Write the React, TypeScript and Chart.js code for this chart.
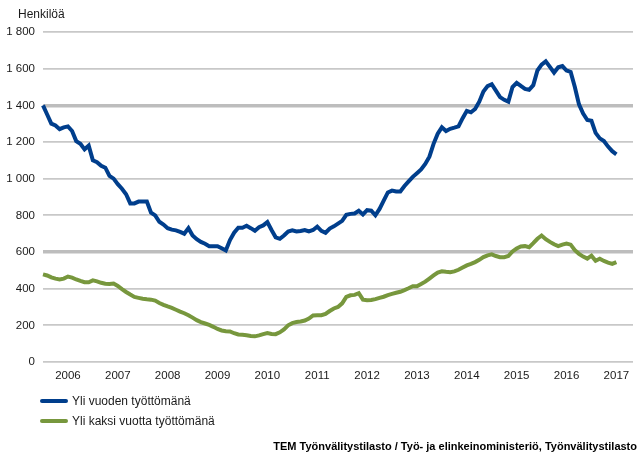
import React, { useEffect, useRef } from "react";
import { Chart, registerables } from "chart.js";

Chart.register(...registerables);

// Monthly observations, July 2005 – January 2017
const startYear = 2005;
const startMonth = 7;
const totalMonths = 143; // axis extends a few months beyond last observation

const yearLabels = ["2006", "2007", "2008", "2009", "2010", "2011", "2012", "2013", "2014", "2015", "2016", "2017"];

const yTicks = [0, 200, 400, 600, 800, 1000, 1200, 1400, 1600, 1800];

const seriesNames = ["Yli vuoden työttömänä", "Yli kaksi vuotta työttömänä"];

const overOneYear = [
  1400, 1350, 1300, 1290, 1270, 1280, 1285, 1260, 1205, 1190, 1160, 1180,
  1100, 1090, 1070, 1060, 1015, 1000, 970, 945, 915, 865, 865, 875,
  875, 875, 815, 800, 765, 750, 730, 722, 718, 710, 700, 730,
  690, 670, 655, 645, 632, 632, 632, 620, 608, 665, 705, 732,
  732, 743, 730, 716, 735, 745, 763, 720, 680, 672, 690, 712,
  718, 712, 715, 720, 712, 720, 738, 715, 705, 728, 740, 755,
  770, 803, 808, 810, 825, 805, 828, 825, 800, 835, 880, 925,
  935, 930, 930, 960, 985, 1010, 1030, 1050, 1080, 1120, 1190, 1245,
  1280, 1260, 1272, 1278, 1285, 1330, 1370, 1362, 1380, 1420, 1475, 1505,
  1515, 1480, 1445, 1430, 1420, 1500, 1523, 1506, 1490, 1485, 1510, 1590,
  1622, 1640, 1610, 1578, 1608, 1614, 1590, 1582, 1500, 1405, 1355, 1320,
  1316, 1250, 1220, 1205, 1175, 1150, 1133,
];

const overTwoYears = [
  478, 472, 462, 455, 450, 455, 466, 460, 450, 442, 435, 435,
  445, 440, 432, 427, 425, 428, 415, 398, 382, 368, 355, 350,
  345, 342, 340, 335, 322, 312, 303, 295, 285, 275, 266, 255,
  242, 228, 218, 210, 202, 192, 180, 172, 168, 167, 157, 150,
  148, 146, 142, 140, 145, 152, 158, 153, 152, 162, 178, 200,
  212, 218, 221, 226, 237, 254, 255, 255, 262, 278, 292, 300,
  320, 355, 364, 366, 375, 340, 337, 338, 343, 350, 356, 365,
  372, 378, 383, 392, 402, 413, 413, 425, 438, 455, 472, 488,
  495, 492, 490, 494, 503, 515, 527, 535, 545, 557, 572, 582,
  587, 578, 572, 572, 578, 603, 619, 630, 632, 626, 648, 672,
  690, 670, 655, 642, 632, 640, 646, 640, 610, 590, 575, 564,
  580, 552, 563, 551, 542, 535, 545,
];

const BLUE = "#003e8c";
const GREEN = "#77973d";
const FONT = "'Liberation Sans', Arial, sans-serif";

const monthLabels: string[] = [];
for (let i = 0; i < totalMonths; i++) {
  const m = (startMonth - 1 + i) % 12;
  const y = startYear + Math.floor((startMonth - 1 + i) / 12);
  monthLabels.push(m === 0 ? String(y) : "");
}

export default function App() {
  const ref = useRef<HTMLCanvasElement | null>(null);

  useEffect(() => {
    if (!ref.current) return;
    const chart = new Chart(ref.current, {
      type: "line",
      data: {
        labels: monthLabels,
        datasets: [
          {
            label: seriesNames[0],
            data: overOneYear,
            borderColor: BLUE,
            backgroundColor: BLUE,
            borderWidth: 4,
            pointRadius: 0,
            tension: 0,
            fill: false,
          },
          {
            label: seriesNames[1],
            data: overTwoYears,
            borderColor: GREEN,
            backgroundColor: GREEN,
            borderWidth: 4,
            pointRadius: 0,
            tension: 0,
            fill: false,
          },
        ],
      },
      options: {
        animation: false,
        responsive: false,
        maintainAspectRatio: false,
        layout: { padding: { top: 32, left: 0, right: 0, bottom: 62 } },
        plugins: {
          legend: { display: false },
          tooltip: { enabled: false },
          title: { display: false },
        },
        scales: {
          x: {
            type: "category",
            offset: false,
            grid: { display: false, drawTicks: false },
            border: { display: false },
            ticks: {
              autoSkip: false,
              maxRotation: 0,
              minRotation: 0,
              padding: 7,
              color: "#1a1a1a",
              font: { family: FONT, size: 11.5 },
              callback: (_v: any, i: number) => (yearLabels.includes(monthLabels[i]) ? monthLabels[i] : ""),
            },
            afterFit: (s: any) => {
              s.height = 30;
            },
          },
          y: {
            min: yTicks[0],
            max: yTicks[yTicks.length - 1],
            afterBuildTicks: (s: any) => {
              s.ticks = yTicks.map((v) => ({ value: v }));
            },
            grid: {
              drawTicks: false,
              color: (ctx: any) => (ctx.tick && (ctx.tick.value === 600 || ctx.tick.value === 1400) ? "#bdbdbd" : "#c8c8c8"),
              lineWidth: (ctx: any) => (ctx.tick && (ctx.tick.value === 600 || ctx.tick.value === 1400) ? 3.5 : 1.8),
            },
            border: { display: false },
            ticks: {
              padding: 8,
              color: "#1a1a1a",
              font: { family: FONT, size: 11.5 },
              callback: (v: any) => String(v).replace(/\B(?=(\d{3})+(?!\d))/g, " "),
            },
            afterFit: (s: any) => {
              s.width = 43;
            },
          },
        },
      },
    });
    return () => chart.destroy();
  }, []);

  const text: React.CSSProperties = {
    position: "absolute",
    fontFamily: FONT,
    fontSize: 12,
    color: "#1a1a1a",
    whiteSpace: "nowrap",
    lineHeight: "14px",
  };

  return (
    <div style={{ position: "fixed", left: 0, top: 0, width: 640, height: 454, background: "#fff" }}>
      <canvas ref={ref} width={640} height={454} style={{ position: "absolute", left: 0, top: 0, width: 640, height: 454 }} />
      <div style={{ ...text, left: 18, top: 7 }}>Henkilöä</div>
      <div style={{ position: "absolute", left: 40, top: 399, width: 28, height: 4, background: BLUE, borderRadius: 2 }} />
      <div style={{ ...text, left: 72, top: 394 }}>{seriesNames[0]}</div>
      <div style={{ position: "absolute", left: 40, top: 419, width: 28, height: 4, background: GREEN, borderRadius: 2 }} />
      <div style={{ ...text, left: 72, top: 414 }}>{seriesNames[1]}</div>
      <div style={{ ...text, right: 3, top: 439, fontSize: 11, fontWeight: "bold", color: "#000" }}>
        TEM Työnvälitystilasto / Työ- ja elinkeinoministeriö, Työnvälitystilasto
      </div>
    </div>
  );
}
